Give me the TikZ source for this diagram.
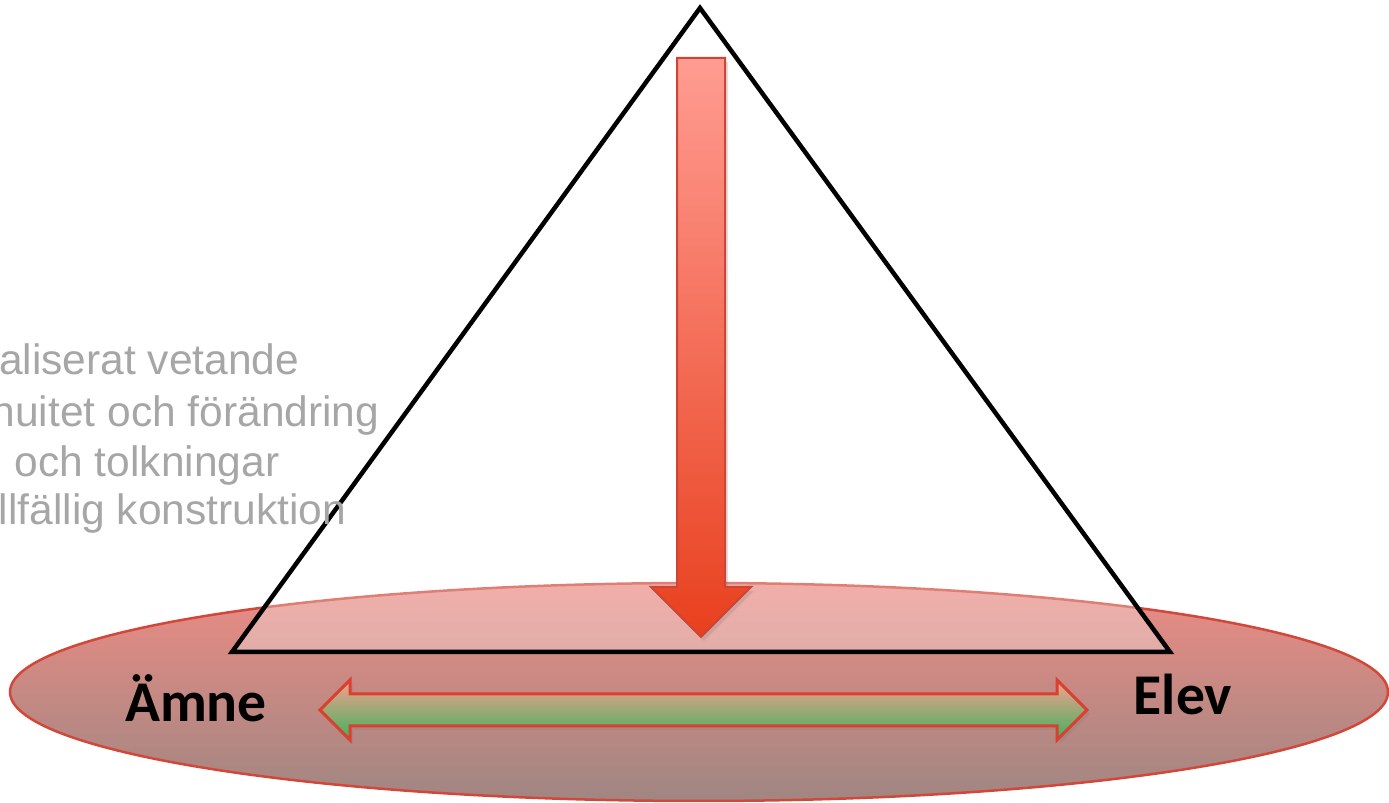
\documentclass[tikz,border=0pt]{standalone}
\usepackage{fontspec}
\newfontfamily\labelfont{Carlito}
\newfontfamily\sidefont{Liberation Sans}
\usepackage{tikz}
\usetikzlibrary{positioning,shadows}

\definecolor{discline}{HTML}{D2473A}
\definecolor{disctop}{HTML}{EC8C84}
\definecolor{discmid}{HTML}{A8645E}
\definecolor{discbot}{HTML}{A08682}
\definecolor{downtop}{HTML}{FF9C92}
\definecolor{downbot}{HTML}{E8401E}
\definecolor{downline}{HTML}{CC4535}
\definecolor{bothtop}{HTML}{F8A090}
\definecolor{bothbot}{HTML}{3DB25C}
\definecolor{bothline}{HTML}{D9402F}
\definecolor{sidegray}{HTML}{A6A6A6}

\tikzset{
  disc/.style={draw=discline, line width=0.25mm, top color=disctop, middle color=discmid, bottom color=discbot},
  tri/.style={draw=black, line width=0.45mm, fill=white, fill opacity=0.3, draw opacity=1},
  downarrow/.style={draw=downline, line width=0.2mm, top color=downtop, bottom color=downbot,
    drop shadow={shadow xshift=0.3mm, shadow yshift=-0.4mm, opacity=0.25}},
  botharrow/.style={draw=bothline, line width=0.3mm, top color=bothtop, bottom color=bothbot,
    drop shadow={shadow xshift=0.3mm, shadow yshift=-0.4mm, opacity=0.25}},
  sidetext/.style={text=sidegray, inner sep=0pt, anchor=base east, font=\sidefont\fontsize{12.1pt}{14pt}\selectfont},
  endlabel/.style={text=black, inner sep=0pt, anchor=base, font=\labelfont\bfseries\fontsize{16.4pt}{19pt}\selectfont}
}

\begin{document}
\begin{tikzpicture}[x=0.1mm,y=-0.1mm]
  \useasboundingbox (0,0) rectangle (1389,803);

  \draw[disc] (699,692) ellipse [x radius=689, y radius=109];

  \coordinate (apex) at (700,8);
  \coordinate (baseleft) at (232,652);
  \coordinate (baseright) at (1170,652);
  \draw[tri] (apex) -- (baseright) -- (baseleft) -- cycle;

  \draw[downarrow] (677,58) -- (725,58) -- (725,587) -- (751,587) -- (701,637)
    -- (651,587) -- (677,587) -- cycle;

  \node[sidetext] (line1) at (300,375) {aliserat vetande};
  \node[sidetext] (line2) at (380,427) {nuitet och förändring};
  \node[sidetext] (line3) at (280,477) {och tolkningar};
  \node[sidetext] (line4) at (347,525) {llfällig konstruktion};

  \node[endlabel] (amne) at (196,722) {Ämne};
  \node[endlabel] (elev) at (1183,715) {Elev};

  \draw[botharrow] (320,710) -- (350,680) -- (350,694) -- (1057,694) -- (1057,680)
    -- (1087,710) -- (1057,740) -- (1057,726) -- (350,726) -- (350,740) -- cycle;
\end{tikzpicture}
\end{document}
